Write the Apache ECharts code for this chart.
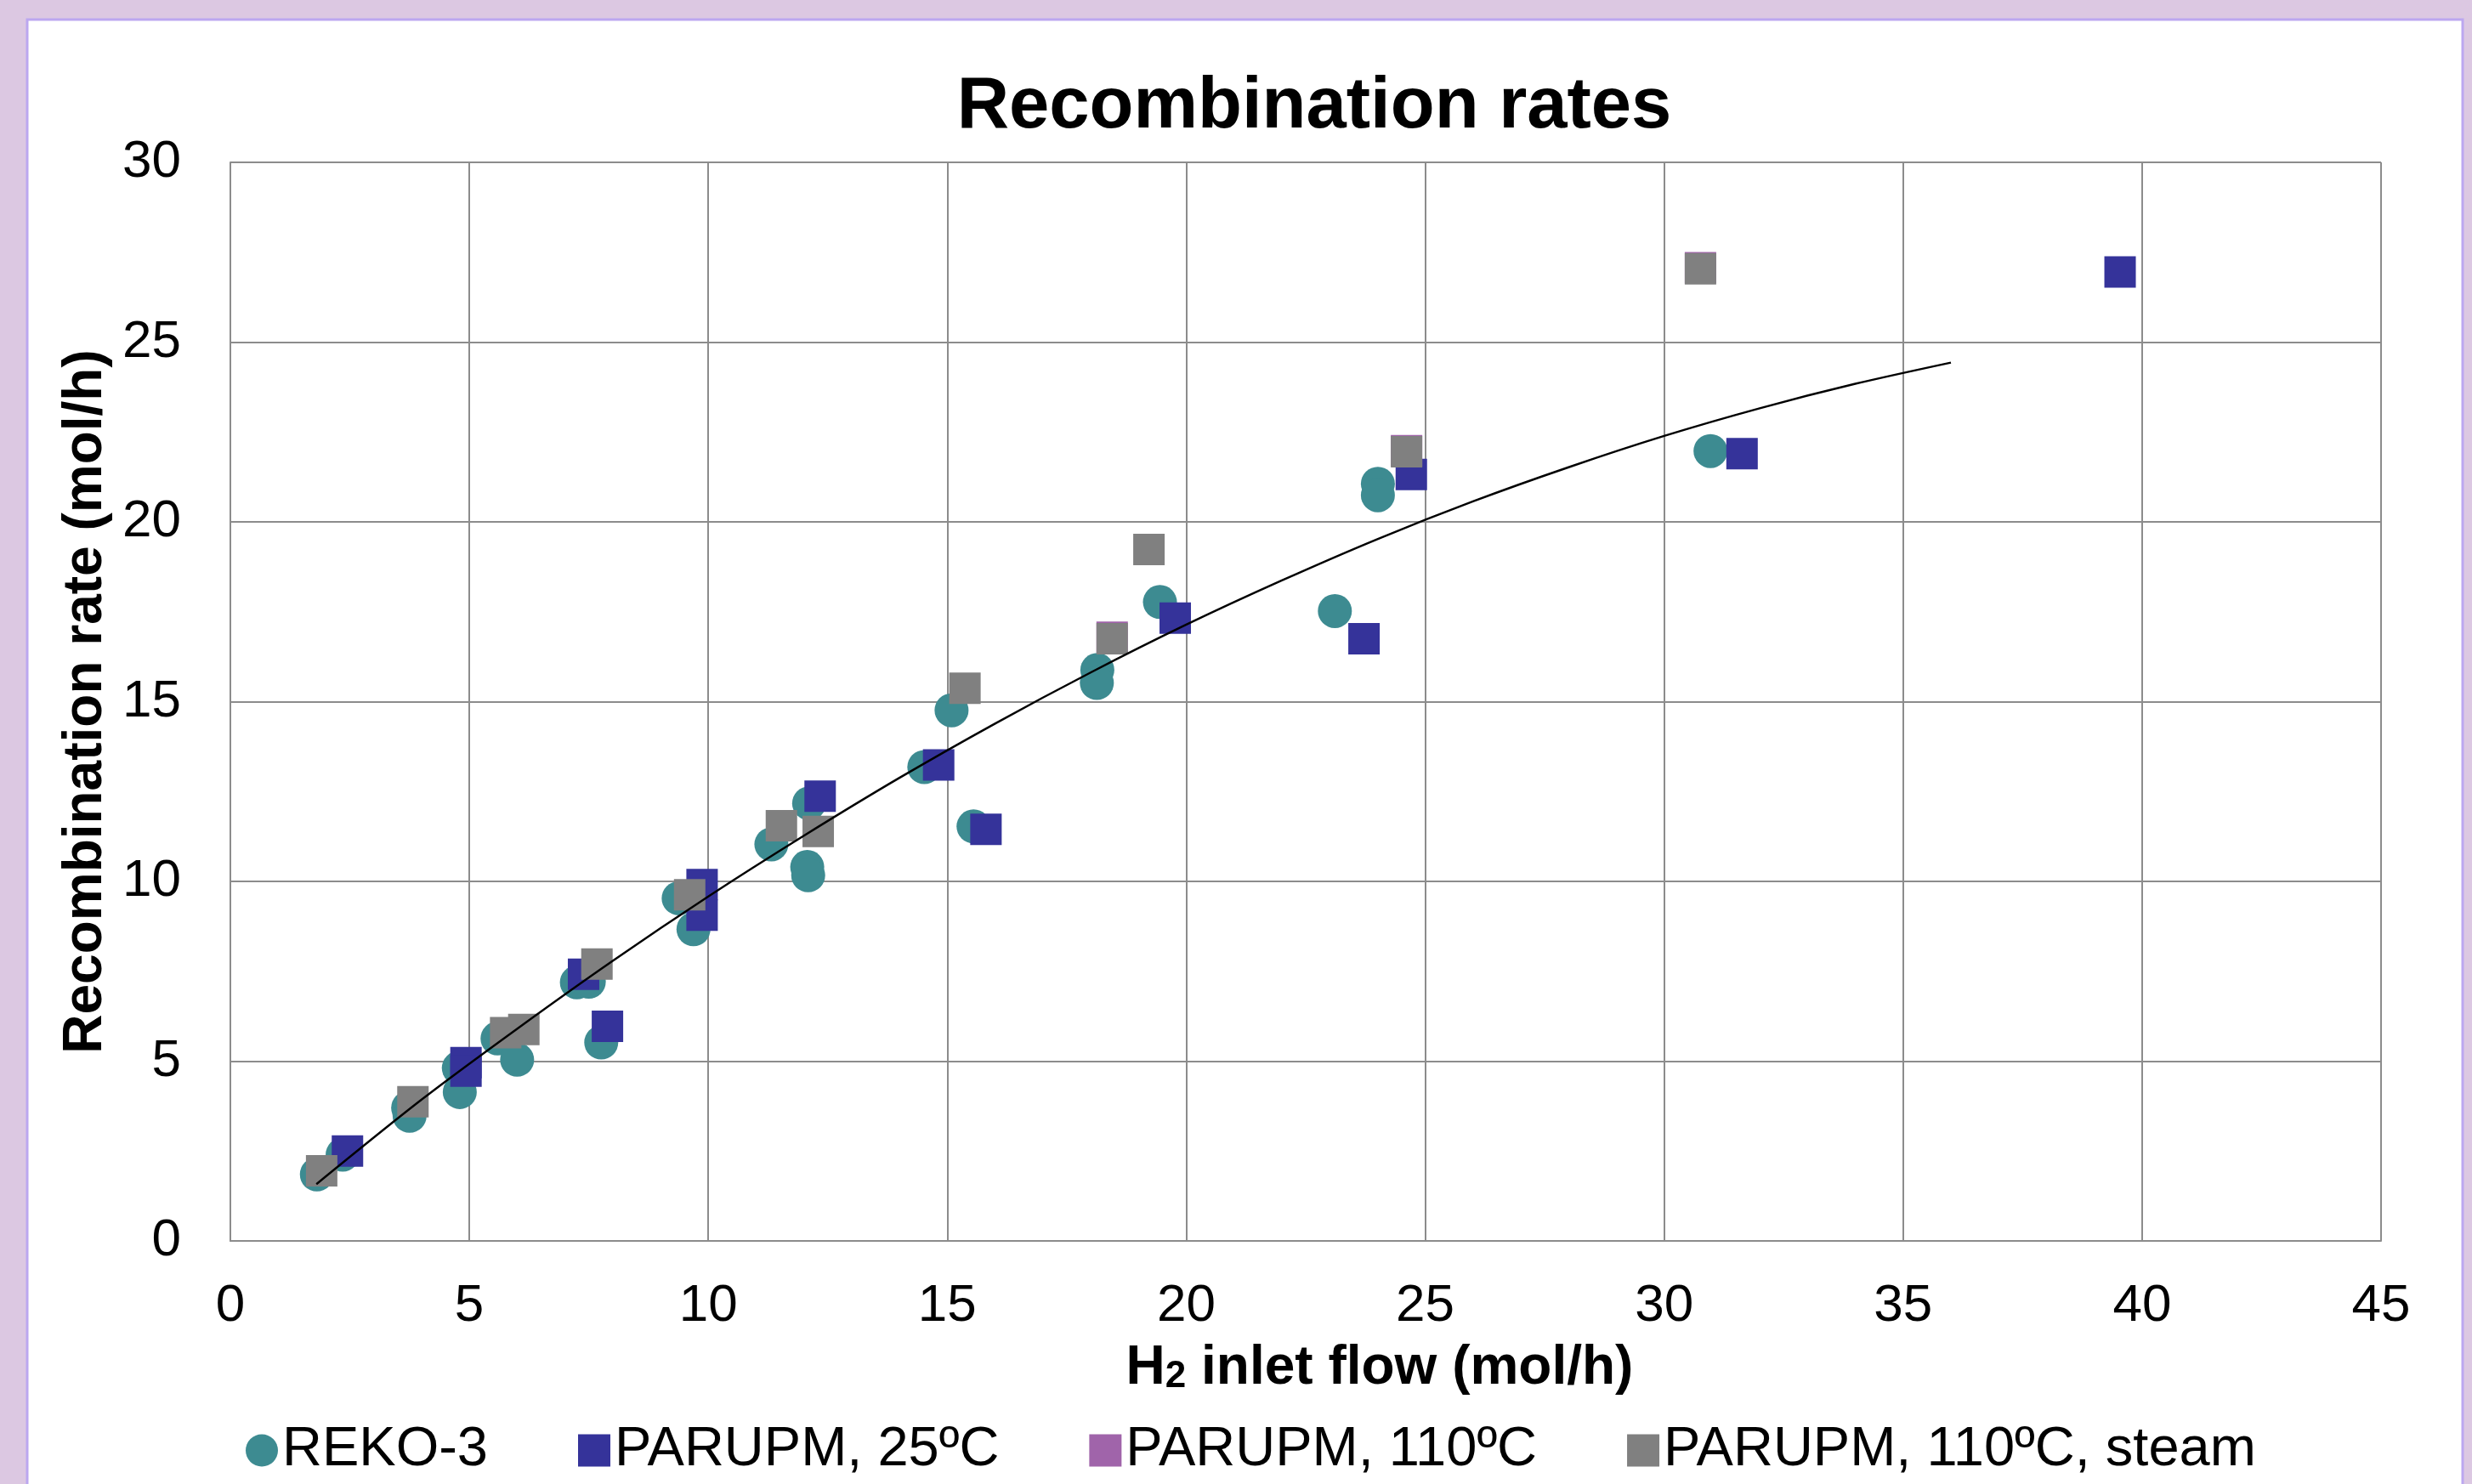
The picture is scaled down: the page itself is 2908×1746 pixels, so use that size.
<!DOCTYPE html>
<html>
<head>
<meta charset="utf-8">
<script src="https://cdn.jsdelivr.net/npm/echarts@6/dist/echarts.min.js"></script>
<style>
html,body{margin:0;padding:0;background:#DCC8E2;}
#c{width:2908px;height:1746px;}
</style>
</head>
<body>
<div id="c"></div>
<script>
// ---- Data ----
const xTicks = [0, 5, 10, 15, 20, 25, 30, 35, 40, 45];
const yTicks = [0, 5, 10, 15, 20, 25, 30];

const seriesNames = ['REKO-3', 'PARUPM, 25ºC', 'PARUPM, 110ºC', 'PARUPM, 110ºC, steam'];

const rekoX = [1.81, 2.35, 3.72, 3.75, 4.78, 4.80, 5.59, 6.00, 7.25, 7.50, 7.76, 9.38, 9.69, 11.32, 12.11, 12.07, 12.09, 14.52, 15.09, 15.55, 18.14, 18.13, 19.45, 23.11, 24.01, 24.01, 30.97];
const rekoY = [1.85, 2.40, 3.70, 3.48, 4.81, 4.14, 5.63, 5.04, 7.19, 7.21, 5.52, 9.53, 8.67, 11.03, 12.17, 10.40, 10.17, 13.18, 14.76, 11.53, 15.88, 15.52, 17.77, 17.52, 21.06, 20.74, 21.97];

const p25X = [2.45, 4.93, 4.93, 7.39, 7.89, 9.87, 9.87, 12.34, 14.82, 15.81, 19.77, 23.72, 24.71, 31.63, 39.54];
const p25Y = [2.50, 4.96, 4.72, 7.42, 5.97, 9.91, 9.06, 12.37, 13.24, 11.45, 17.32, 16.75, 21.32, 21.90, 26.95];

const p110X = [18.45, 24.61, 30.76];
const p110Y = [16.79, 21.98, 27.07];

const steamX = [1.91, 3.82, 5.76, 6.14, 7.67, 9.61, 11.53, 12.30, 15.37, 18.45, 19.22, 24.61, 30.76];
const steamY = [1.95, 3.87, 5.79, 5.88, 7.70, 9.63, 11.55, 11.39, 15.37, 16.75, 19.23, 21.95, 27.04];

// trendline
const trendX = [1.8, 4, 6, 8, 10, 12, 14, 16, 18, 20, 22, 24, 26, 28, 30, 32, 34, 36];
const trendY = [1.58, 3.93, 5.90, 7.79, 9.58, 11.27, 12.88, 14.39, 15.81, 17.14, 18.37, 19.52, 20.57, 21.52, 22.39, 23.16, 23.84, 24.43];

// ---- Chart ----
const F = '"Liberation Sans", Arial, "Noto Sans", sans-serif';
const zip = (a, b) => a.map((v, i) => [v, b[i]]);
const gridColor = '#8C8C8C';

const chart = echarts.init(document.getElementById('c'), null, {renderer: 'canvas'});
const option = {
  animation: false,
  backgroundColor: '#DCC8E2',
  graphic: [{
    type: 'rect', z: -100, silent: true,
    shape: {x: 32, y: 23, width: 2865, height: 1800},
    style: {fill: '#FFFFFF', stroke: '#BCA7F0', lineWidth: 3}
  }],
  title: {
    text: 'Recombination rates',
    left: 1541, top: 79, textAlign: 'center',
    textStyle: {fontSize: 85, fontWeight: 'bold', color: '#000', fontFamily: F}
  },
  grid: {left: 271, right: 107, top: 191, bottom: 286, containLabel: false},
  xAxis: {
    type: 'value',
    min: xTicks[0], max: xTicks[xTicks.length - 1], interval: xTicks[1] - xTicks[0],
    axisLine: {show: true, lineStyle: {color: gridColor, width: 2}},
    axisTick: {show: false},
    splitLine: {show: true, lineStyle: {color: gridColor, width: 2}},
    axisLabel: {fontSize: 62, color: '#000', margin: 46, fontFamily: F},
    name: '{a|H}{s|2}{a| inlet flow (mol/h)}',
    nameLocation: 'middle', nameGap: 118,
    nameTextStyle: {
      padding: [0, 0, 0, 174],
      rich: {
        a: {fontSize: 64, fontWeight: 'bold', color: '#000', fontFamily: F, lineHeight: 64, verticalAlign: 'bottom'},
        s: {fontSize: 44, fontWeight: 'bold', color: '#000', fontFamily: F, lineHeight: 8, verticalAlign: 'bottom'}
      }
    }
  },
  yAxis: {
    type: 'value',
    min: yTicks[0], max: yTicks[yTicks.length - 1], interval: yTicks[1] - yTicks[0],
    axisLine: {show: true, lineStyle: {color: gridColor, width: 2}},
    axisTick: {show: false},
    splitLine: {show: true, lineStyle: {color: gridColor, width: 2}},
    axisLabel: {fontSize: 62, color: '#000', margin: 58, fontFamily: F},
    name: 'Recombination rate (mol/h)',
    nameLocation: 'middle', nameGap: 136,
    nameTextStyle: {fontSize: 64, fontWeight: 'bold', color: '#000', fontFamily: F}
  },
  legend: {
    left: 289, top: 1674, padding: 0,
    itemGap: 106, itemWidth: 38, itemHeight: 38, itemTextGap: 20,
    textStyle: {fontSize: 65, color: '#000', fontFamily: F, lineHeight: 64},
    data: [
      {name: seriesNames[0], icon: 'circle'},
      {name: seriesNames[1], icon: 'rect'},
      {name: seriesNames[2], icon: 'rect'},
      {name: seriesNames[3], icon: 'rect'}
    ]
  },
  series: [
    {name: seriesNames[0], type: 'scatter', symbol: 'circle', symbolSize: 40, z: 2,
     itemStyle: {color: '#3D8B91', opacity: 1}, data: zip(rekoX, rekoY)},
    {name: seriesNames[1], type: 'scatter', symbol: 'rect', symbolSize: 37, z: 3,
     itemStyle: {color: '#35339A', opacity: 1}, data: zip(p25X, p25Y)},
    {name: seriesNames[2], type: 'scatter', symbol: 'rect', symbolSize: 37, z: 4,
     itemStyle: {color: '#A064AA', opacity: 1}, data: zip(p110X, p110Y)},
    {name: seriesNames[3], type: 'scatter', symbol: 'rect', symbolSize: 37, z: 5,
     itemStyle: {color: '#808080', opacity: 1}, data: zip(steamX, steamY)},
    {name: 'trend', type: 'line', smooth: 0.3, showSymbol: false, symbol: 'none', z: 10,
     lineStyle: {color: '#000000', width: 2.5}, data: zip(trendX, trendY), silent: true}
  ]
};
chart.setOption(option);
</script>
</body>
</html>
